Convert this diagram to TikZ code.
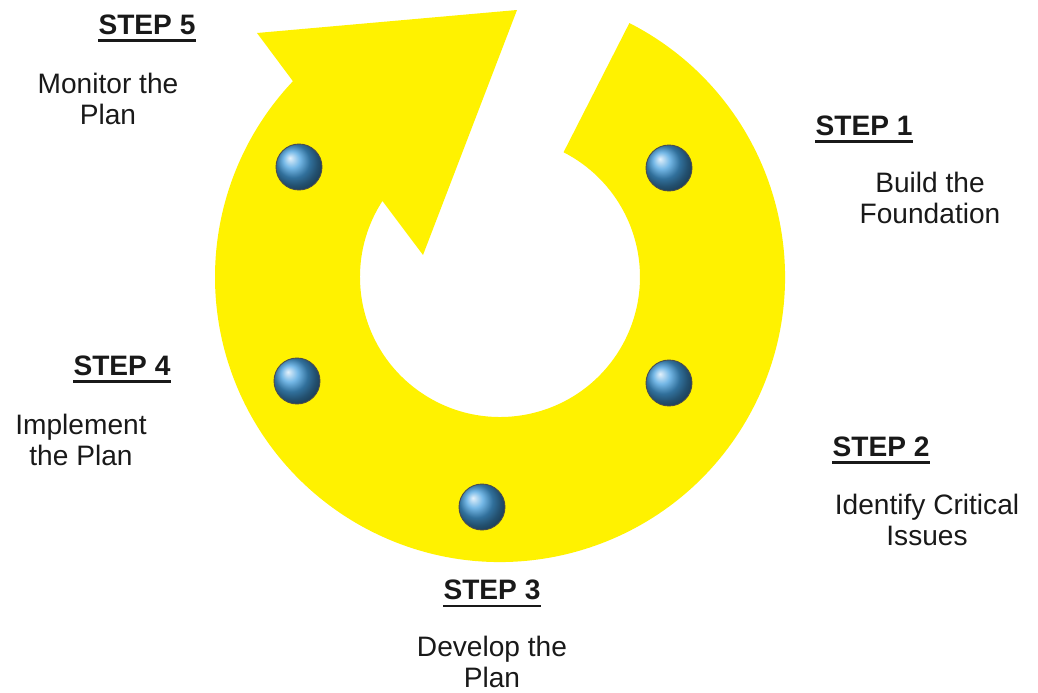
\documentclass[tikz,border=0pt]{standalone}
\usepackage{fontspec}
\setmainfont{Liberation Sans}
\definecolor{ringyellow}{RGB}{255,242,0}
\definecolor{ballblue}{RGB}{70,160,222}
\definecolor{textgray}{RGB}{25,25,25}
\begin{document}
\begin{tikzpicture}[x=0.02cm, y=0.02cm,
    steptitle/.style={font=\fontsize{16}{17.6}\selectfont\bfseries, text=textgray, inner sep=0pt},
    stepdesc/.style={font=\fontsize{16}{17.6}\selectfont, text=textgray, align=center, inner sep=0pt},
    stepball/.style={circle, minimum size=0.92cm, inner sep=0pt, shading=ball, ball color=ballblue, draw=black!70, line width=0.5pt},
    underl/.style={line width=1.5pt, textgray}]
    \useasboundingbox (0,0) rectangle (1038,-693);

    % circular arrow
    \begin{scope}[shift={(500,-277)}]
        \fill[ringyellow] (63:285) arc[start angle=63, end angle=-223.4, radius=285]
            -- (-243,244) -- (17,267) -- (-77,22)
            -- (-212.9:140) arc[start angle=-212.9, end angle=63, radius=140] -- cycle;
    \end{scope}

    % balls
    \node[stepball] (b1) at (669,-168) {};
    \node[stepball] (b2) at (669,-383) {};
    \node[stepball] (b3) at (482,-507) {};
    \node[stepball] (b4) at (297,-381) {};
    \node[stepball] (b5) at (299,-167) {};

    % labels
    \node[steptitle] (s1) at (864,-126) {STEP 1};
    \node[stepdesc] (d1) at (930,-198) {Build the\\Foundation};
    \node[steptitle] (s2) at (881,-447) {STEP 2};
    \node[stepdesc] (d2) at (927,-520) {Identify Critical\\Issues};
    \node[steptitle] (s3) at (492,-590) {STEP 3};
    \node[stepdesc] (d3) at (492,-662) {Develop the\\Plan};
    \node[steptitle] (s4) at (122,-366) {STEP 4};
    \node[stepdesc] (d4) at (81,-440) {Implement\\the Plan};
    \node[steptitle] (s5) at (147,-25) {STEP 5};
    \node[stepdesc] (d5) at (108,-99) {Monitor the\\Plan};

    \foreach \s in {s1,s2,s3,s4,s5}
        \draw[underl] ([yshift=-0.11cm]\s.south west) -- ([yshift=-0.11cm]\s.south east);
\end{tikzpicture}
\end{document}
